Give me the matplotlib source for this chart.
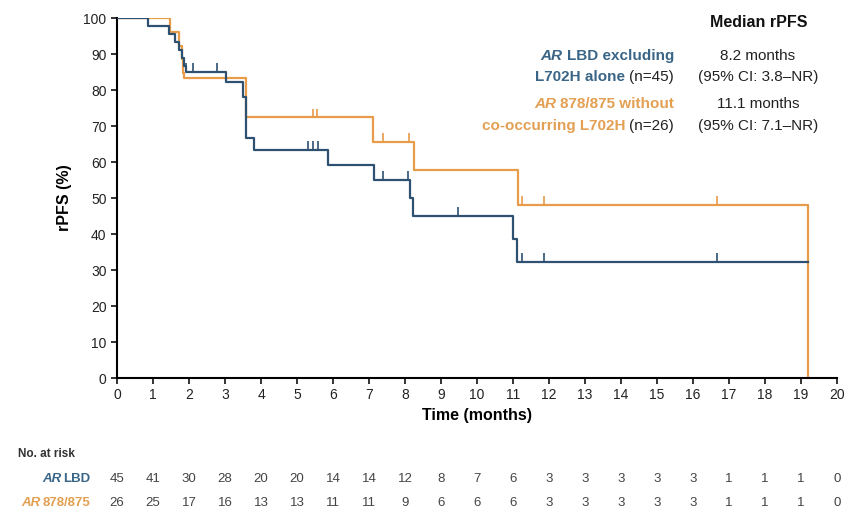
import numpy as np
import matplotlib
matplotlib.use("Agg")
import matplotlib.pyplot as plt
from matplotlib.transforms import blended_transform_factory

plt.rcParams['font.family'] = ['Liberation Sans', 'DejaVu Sans']

# Kaplan-Meier step data
lbd_t = [0, 0.86, 1.45, 1.62, 1.72, 1.80, 1.85, 1.92, 3.03, 3.50, 3.58, 3.80, 5.85, 7.14, 8.14, 8.22, 11.0, 11.1, 19.2]
lbd_s = [100, 97.8, 95.6, 93.3, 91.1, 88.9, 86.7, 85.0, 82.3, 78.0, 66.7, 63.4, 59.2, 55.0, 50.0, 45.0, 38.7, 32.2, 32.2]
lbd_cens = [1.92, 2.10, 2.77, 5.30, 5.45, 5.58, 7.39, 8.08, 9.47, 11.25, 11.86, 16.66]

mut_t = [0, 1.47, 1.72, 1.80, 1.84, 1.87, 3.58, 7.10, 8.25, 11.15, 19.2, 19.2]
mut_s = [100, 96.2, 92.3, 88.5, 84.6, 83.2, 72.4, 65.6, 57.8, 48.1, 48.1, 0]
mut_cens = [5.45, 5.55, 7.38, 8.10, 11.25, 11.86, 16.66]

months = list(range(0, 21))
risk_lbd = [45, 41, 30, 28, 20, 20, 14, 14, 12, 8, 7, 6, 3, 3, 3, 3, 3, 1, 1, 1, 0]
risk_mut = [26, 25, 17, 16, 13, 13, 11, 11, 9, 6, 6, 6, 3, 3, 3, 3, 3, 1, 1, 1, 0]

blue = '#2f5171'
orange = '#e89b48'
blue_txt = '#3a6586'
orange_txt = '#e39f52'

W, H = 851, 509
fig = plt.figure(figsize=(W / 100, H / 100), dpi=100)
ax = fig.add_axes([117 / W, 1 - 378 / H, 720 / W, 360 / H])


def at(t_list, s_list, t):
    i = np.searchsorted(t_list, t, side='right') - 1
    return s_list[i]


ax.step(lbd_t, lbd_s, where='post', color=blue, lw=1.6, zorder=3)
ax.step(mut_t, mut_s, where='post', color=orange, lw=1.6, zorder=2)
for c in lbd_cens:
    y = at(lbd_t, lbd_s, c)
    ax.vlines(c, y, y + 2.4, color=blue, lw=1.2, zorder=3)
for c in mut_cens:
    y = at(mut_t, mut_s, c)
    ax.vlines(c, y, y + 2.4, color=orange, lw=1.2, zorder=2)

ax.set_xlim(0, 20)
ax.set_ylim(0, 100)
ax.set_xticks(months)
ax.set_yticks(range(0, 101, 10))
ax.tick_params(axis='both', length=4, width=1.3, labelsize=10, colors='#222222')
for side in ['top', 'right']:
    ax.spines[side].set_visible(False)
for side in ['left', 'bottom']:
    ax.spines[side].set_linewidth(1.5)
ax.set_xlabel('Time (months)', fontsize=11.5, fontweight='bold', labelpad=4)
ax.set_ylabel('rPFS (%)', fontsize=11.5, fontweight='bold', labelpad=8)


def fxy(x, y):
    return x / W, 1 - y / H


def rich_right(x, y, parts, size=11, gap=3):
    # parts: (text, color, weight, style), drawn right to left
    prev = None
    for txt, col, wt, st in reversed(parts):
        if prev is None:
            prev = fig.text(*fxy(x, y), txt, ha='right', va='baseline', color=col,
                            fontweight=wt, fontstyle=st, fontsize=size)
        else:
            prev = ax.annotate(txt, xy=(0, 0), xycoords=prev, xytext=(-gap, 0),
                               textcoords='offset points', ha='right', va='bottom',
                               color=col, fontweight=wt, fontstyle=st, fontsize=size,
                               annotation_clip=False)
    return prev


# legend block
fig.text(*fxy(759, 27), 'Median rPFS', ha='center', va='baseline', fontsize=11.5, fontweight='bold', color='#111111')
rich_right(674, 60, [('AR', blue_txt, 'bold', 'italic'), ('LBD excluding', blue_txt, 'bold', 'normal')])
rich_right(674, 81, [('L702H alone', blue_txt, 'bold', 'normal'), ('(n=45)', '#222222', 'normal', 'normal')])
rich_right(674, 108, [('AR', orange_txt, 'bold', 'italic'), ('878/875 without', orange_txt, 'bold', 'normal')])
rich_right(674, 130, [('co-occurring L702H', orange_txt, 'bold', 'normal'), ('(n=26)', '#222222', 'normal', 'normal')])
fig.text(*fxy(758, 60), '8.2 months', ha='center', va='baseline', fontsize=11, color='#222222')
fig.text(*fxy(758, 81), '(95% CI: 3.8\u2013NR)', ha='center', va='baseline', fontsize=11, color='#222222')
fig.text(*fxy(758, 108), '11.1 months', ha='center', va='baseline', fontsize=11, color='#222222')
fig.text(*fxy(758, 130), '(95% CI: 7.1\u2013NR)', ha='center', va='baseline', fontsize=11, color='#222222')

# number at risk table
fig.text(*fxy(18, 457), 'No. at risk', ha='left', va='baseline', fontsize=8.5, fontweight='bold', color='#333333')
rich_right(90, 482, [('AR', blue_txt, 'bold', 'italic'), ('LBD', blue_txt, 'bold', 'normal')], size=9.5, gap=1.2)
rich_right(90, 506, [('AR', orange_txt, 'bold', 'italic'), ('878/875', orange_txt, 'bold', 'normal')], size=9.5, gap=1.2)
tr = blended_transform_factory(ax.transData, fig.transFigure)
for m, a, b in zip(months, risk_lbd, risk_mut):
    ax.text(m, 1 - 482 / H, str(a), transform=tr, ha='center', va='baseline', fontsize=9.5, color='#444444')
    ax.text(m, 1 - 506 / H, str(b), transform=tr, ha='center', va='baseline', fontsize=9.5, color='#444444')

fig.savefig('out.png', dpi=100)
